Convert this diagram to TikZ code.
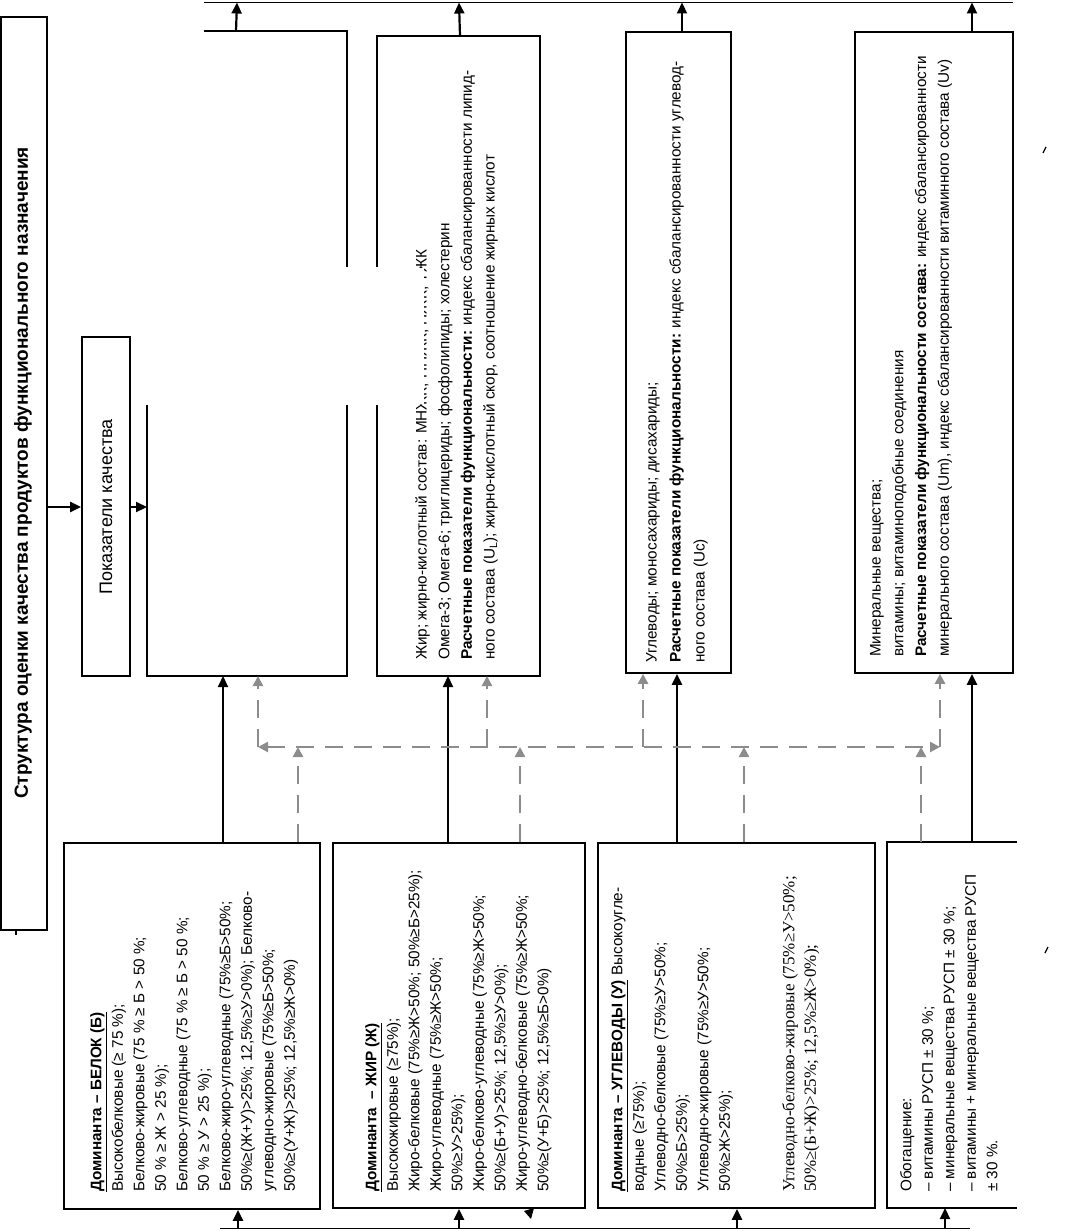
\documentclass[tikz,border=0pt]{standalone}
\usepackage{fontspec}
\setmainfont{Liberation Sans}
\newfontfamily\serifx{Liberation Serif}
\usetikzlibrary{arrows.meta,fit}
\definecolor{dgray}{RGB}{140,140,140}
\begin{document}
\begin{tikzpicture}[x=1pt,y=-1pt,
  boxln/.style={draw=black, line width=1.7pt},
  fbox/.style={boxln, inner sep=0pt},
  arr/.style={line width=2.2pt, -{Triangle[length=11pt,width=10pt]}},
  dln/.style={draw=dgray, line width=2.4pt, dash pattern=on 18pt off 11pt},
  darr/.style={dln, -{Triangle[length=10pt,width=10pt]}},
  rtext/.style={rotate=90, anchor=north west, inner sep=0pt, align=left},
  btxt/.style={rtext, font=\fontsize{15.3}{21.5}\selectfont},
  ttxt/.style={rtext, font=\fontsize{15.3}{22.7}\selectfont}]
\useasboundingbox (0,0) rectangle (1082,1231);

% title and "Показатели качества"
\node[fbox, fit={(1,17)(47,930)}] (title) {};
\node[rotate=90, font=\fontsize{19}{22}\selectfont\bfseries] (titletext) at (23,473) {Структура оценки качества продуктов функционального назначения};
\node[fbox, fit={(82,337)(130,676)}] (pk) {};
\node[rotate=90, font=\fontsize{18}{22}\selectfont] (pktext) at (106,507) {Показатели качества};

% top boxes
\draw[boxln] (204,31) -- (347,31) -- (347,267);
\draw[boxln] (347,405) -- (347,676) -- (147,676) -- (147,405);
\coordinate (c1w) at (147,507);
\coordinate (c1top) at (236,31);
\draw[boxln] (377,267) -- (377,36) -- (540,36) -- (540,676) -- (377,676) -- (377,405);
\node[fbox, fit={(626,32)(731,673)}] (c3) {};
\node[fbox, fit={(855,32)(1013,673)}] (c4) {};

\node[ttxt] (t2) at (415,660) {Жир; жирно-кислотный состав: МНЖК, ПНЖК, НЖК, ТЖК\\
Омега-3; Омега-6; триглицериды; фосфолипиды; холестерин\\
\textbf{Расчетные показатели функциональности:} индекс сбалансированности липид-\\
ного состава (U\textsubscript{L}); жирно-кислотный скор, соотношение жирных кислот};
\fill[white] (396,268) rectangle (423.5,404);

\node[rtext, font=\fontsize{15.3}{24}\selectfont] (t3) at (646,663) {Углеводы; моносахариды; дисахариды;\\
\textbf{Расчетные показатели функциональности:} индекс сбалансированности углевод-\\
ного состава (Uc)};

\node[ttxt] (t4) at (870,657) {Минеральные вещества;\\
витамины; витаминоподобные соединения\\
\textbf{Расчетные показатели функциональности состава:} индекс сбалансированности\\
минерального состава (Um), индекс сбалансированности витаминного состава (Uv)};

% bottom boxes
\node[fbox, fit={(64,843)(320,1209)}] (b1) {};
\node[fbox, fit={(333,843)(585,1208)}] (b2) {};
\node[fbox, fit={(598,843)(875,1208)}] (b3) {};
\draw[boxln] (1017,842) -- (887,842) -- (887,1208) -- (1017,1208);

\node[btxt] (tb1) at (90,1192) {\underline{\textbf{Доминанта – БЕЛОК (Б)}}\\
Высокобелковые (≥ 75 \%);\\
Белково-жировые (75 \% ≥ Б > 50 \%;\\
50 \% ≥ Ж > 25 \%);\\
Белково-углеводные (75 \% ≥ Б > 50 \%;\\
50 \% ≥ У > 25 \%);\\
Белково-жиро-углеводные (75\%≥Б>50\%;\\
50\%≥(Ж+У)>25\%; 12,5\%≥У>0\%); Белково-\\
углеводно-жировые (75\%≥Б>50\%;\\
50\%≥(У+Ж)>25\%; 12,5\%≥Ж>0\%)};

\node[btxt] (tb2) at (365,1192) {\underline{\textbf{Доминанта\ \ – ЖИР (Ж)}}\\
Высокожировые (≥75\%);\\
Жиро-белковые (75\%≥Ж>50\%; 50\%≥Б>25\%);\\
Жиро-углеводные (75\%≥Ж>50\%;\\
50\%≥У>25\%);\\
Жиро-белково-углеводные (75\%≥Ж>50\%;\\
50\%≥(Б+У)>25\%; 12,5\%≥У>0\%);\\
Жиро-углеводно-белковые (75\%≥Ж>50\%;\\
50\%≥(У+Б)>25\%; 12,5\%≥Б>0\%)};

\node[btxt] (tb3) at (611,1192) {\underline{\textbf{Доминанта – УГЛЕВОДЫ (У)}} Высокоугле-\\
водные (≥75\%);\\
Углеводно-белковые (75\%≥У>50\%;\\
50\%≥Б>25\%);\\
Углеводно-жировые (75\%≥У>50\%;\\
50\%≥Ж>25\%);\\
~\\
~\\
{\serifx\fontsize{17}{21.5}\selectfont Углеводно-белково-жировые (75\%≥У>50\%;}\\
{\serifx\fontsize{17}{21.5}\selectfont 50\%≥(Б+Ж)>25\%; 12,5\%≥Ж>0\%);}};

\node[btxt] (tb4) at (900,1192) {Обогащение:\\
– витамины РУСП ± 30 \%;\\
– минеральные вещества РУСП ± 30 \%;\\
– витамины + минеральные вещества РУСП\\
± 30 \%.};

% frame lines top and bottom
\coordinate (topL) at (204,2.5);
\coordinate (topR) at (1013,2.5);
\draw[boxln] (topL) -- (topR);
\coordinate (botL) at (220,1228.5);
\coordinate (botR) at (970,1228.5);
\draw[boxln] (botL) -- (botR);

% solid arrows
\draw[arr] (title.east |- 0,507) -- (pk.west |- 0,507);
\draw[arr] (pk.east |- 0,507) -- (c1w);
\draw[arr] (c1top) -- (topL -| 237,0);
\draw[arr] (460,36) -- (topL -| 459,0);
\draw[arr] (c3.north -| 682,0) -- (topL -| 682,0);
\draw[arr] (c4.north -| 972,0) -- (topL -| 972,0);

\draw[arr] (b1.north -| 223,0) -- (223,676);
\draw[arr] (b2.north -| 448,0) -- (448,676);
\draw[arr] (b3.north -| 677,0) -- (c3.south -| 677,0);
\draw[arr] (972,842) -- (c4.south -| 972,0);

\draw[arr] (botL -| 238,0) -- (b1.south -| 238,0);
\draw[arr] (botL -| 459,0) -- (b2.south -| 459,0);
\draw[arr] (botL -| 737,0) -- (b3.south -| 737,0);
\draw[arr] (botL -| 945,0) -- (945,1208);
\fill (524,1211) -- (534,1208) -- (531,1219) -- cycle;

% dashed gray connectors
\coordinate (hL) at (258,747);
\coordinate (hR) at (940,747);
\draw[dln, {Triangle[length=10pt,width=10pt]}-{Triangle[length=10pt,width=10pt]}] (hL) -- (hR);
\draw[darr] (hL) -- (258,676);
\draw[darr] (hR) -- (c4.south -| 940,0);
\draw[darr] (487,747) -- (487,676);
\draw[darr] (643,747) -- (c3.south -| 643,0);
\draw[darr] (b1.north -| 298,0) -- (298,747);
\draw[darr] (b2.north -| 520,0) -- (520,747);
\draw[darr] (b3.north -| 744,0) -- (744,747);
\draw[darr] (921,842) -- (921,747);

% stray marks
\draw[line width=1.2pt] (16,930) -- (16,935);
\draw[line width=1.2pt] (1045,953) -- (1048,947);
\draw[line width=1.2pt] (1043,153) -- (1046,147);
\end{tikzpicture}
\end{document}
